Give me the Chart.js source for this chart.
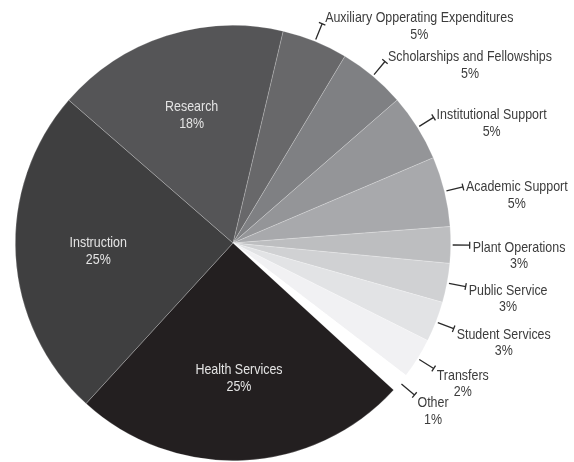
<!DOCTYPE html>
<html>
<head>
<meta charset="utf-8">
<script src="https://cdn.jsdelivr.net/npm/chart.js@4/dist/chart.umd.min.js"></script>
<style>
  html, body { margin: 0; padding: 0; background: #fff; }
  #wrap { width: 574px; height: 462px; }
</style>
</head>
<body>
<div id="wrap"><canvas id="myChart" width="574" height="462"></canvas></div>
<script>
// categories in clockwise order, starting at the Research / Auxiliary boundary
const categories = ['Auxiliary Opperating Expenditures', 'Scholarships and Fellowships', 'Institutional Support',
    'Academic Support', 'Plant Operations', 'Public Service', 'Student Services', 'Transfers', 'Other',
    'Health Services', 'Instruction', 'Research'];
// slice sizes as drawn (percent of the circle)
const values = [4.9, 5, 5, 5.2, 2.7, 2.9, 3, 3, 1.4, 25, 24.6, 17.3];
// percentages printed on the chart
const percentLabels = ['5%', '5%', '5%', '5%', '3%', '3%', '3%', '2%', '1%', '25%', '25%', '18%'];
const colors = ['#68686a', '#7f8083', '#949598', '#a8a9ac', '#bdbec0', '#d0d1d3', '#e2e3e5', '#f1f1f3', '#ffffff',
    '#231f20', '#3f3f40', '#555557'];

const FONT = '15px "Liberation Sans", Arial, sans-serif';
const NARROW = 0.83; // squeeze the text horizontally, the original uses a condensed face

// text drawn through a horizontal squeeze around its anchor point
function narrowText(ctx, text, x, y) {
    ctx.save();
    ctx.translate(x, y);
    ctx.scale(NARROW, 1);
    ctx.fillText(text, 0, 0);
    ctx.restore();
}

// draws the labels: big slices inside, small slices with a leader line outside
const labelPlugin = {
    id: 'pieLabels',
    afterDatasetsDraw(chart) {
        const ctx = chart.ctx;
        const arcs = chart.getDatasetMeta(0).data;
        ctx.save();
        ctx.font = FONT;
        ctx.textBaseline = 'middle';
        arcs.forEach((arc, i) => {
            const mid = (arc.startAngle + arc.endAngle) / 2;
            const cos = Math.cos(mid), sin = Math.sin(mid);
            const r = arc.outerRadius;
            if (values[i] >= 10) {
                const x = arc.x + cos * r * 0.62;
                const y = arc.y + sin * r * 0.62;
                ctx.fillStyle = '#e4e4e4';
                ctx.textAlign = 'center';
                narrowText(ctx, categories[i], x, y - 8);
                narrowText(ctx, percentLabels[i], x, y + 9);
                return;
            }
            const sx = arc.x + cos * (r + 2), sy = arc.y + sin * (r + 2);
            const ex = arc.x + cos * (r + 19), ey = arc.y + sin * (r + 19);
            ctx.strokeStyle = '#2a2a2a';
            ctx.lineWidth = 1.3;
            ctx.beginPath();
            ctx.moveTo(sx, sy);
            ctx.lineTo(ex, ey);
            // small end tick
            ctx.moveTo(ex - sin * 3.5, ey + cos * 3.5);
            ctx.lineTo(ex + sin * 3.5, ey - cos * 3.5);
            ctx.stroke();

            const w = ctx.measureText(categories[i]).width * NARROW;
            const tx = ex + 3;
            const ty = ey + 9 * sin + 2.5;
            ctx.fillStyle = '#3c3c3c';
            ctx.textAlign = 'left';
            narrowText(ctx, categories[i], tx, ty);
            ctx.textAlign = 'center';
            narrowText(ctx, percentLabels[i], tx + w / 2, ty + 16.5);
        });
        ctx.restore();
    }
};

const ctx = document.getElementById('myChart').getContext('2d');
const myChart = new Chart(ctx, {
    type: 'pie',
    data: {
        labels: categories,
        datasets: [{
            data: values,
            backgroundColor: colors,
            borderColor: 'rgba(255,255,255,0.35)',
            borderWidth: 0.6
        }]
    },
    options: {
        responsive: false,
        animation: false,
        rotation: 13.3,
        layout: {
            padding: { top: 25, bottom: 1, left: 15, right: 123 }
        },
        plugins: {
            legend: { display: false },
            tooltip: { enabled: false }
        }
    },
    plugins: [labelPlugin]
});
</script>
</body>
</html>
